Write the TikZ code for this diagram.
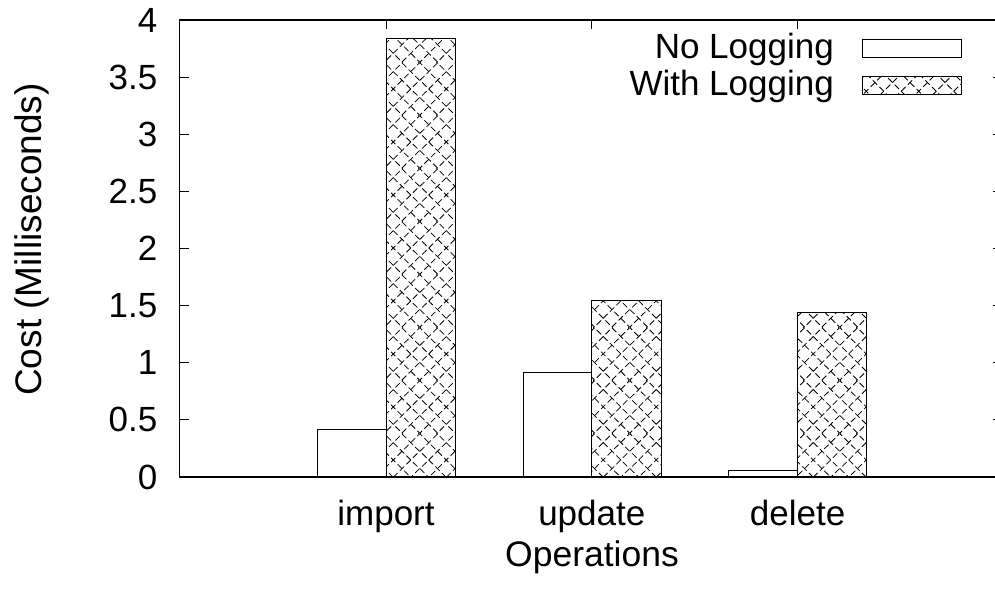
\documentclass[tikz,border=0pt]{standalone}
\usepackage{fontspec}
\setmainfont{Liberation Sans}
\usetikzlibrary{patterns.meta}
\tikzdeclarepattern{
  name=gpcross,
  type=uncolored,
  bounding box={(0pt,0pt) and (52.5pt,52.5pt)},
  tile size={(52.5pt,52.5pt)},
  code={
    \foreach \k in {-2,...,2}{
      \pgfmathsetmacro\cc{\k*17.5}
      \pgfmathsetmacro\xa{max(0,\cc)}
      \pgfmathsetmacro\ya{max(0,-\cc)}
      \pgfmathsetmacro\xb{min(52.5,52.5+\cc)}
      \pgfmathsetmacro\yb{min(52.5,52.5-\cc)}
      \pgfmathsetmacro\ph{Mod((\xa+\ya)/sqrt(2)+3.094,9.2808)}
      \draw[line width=0.8pt, dash pattern=on 6.1872pt off 3.0936pt, dash phase=\ph pt] (\xa pt,\ya pt) -- (\xb pt,\yb pt);
    }
    \foreach \k in {1,...,5}{
      \pgfmathsetmacro\cc{\k*17.5}
      \pgfmathsetmacro\xa{max(0,\cc-52.5)}
      \pgfmathsetmacro\ya{min(\cc,52.5)}
      \pgfmathsetmacro\xb{min(\cc,52.5)}
      \pgfmathsetmacro\yb{max(0,\cc-52.5)}
      \pgfmathsetmacro\ph{Mod((\xa-\ya)/sqrt(2)+3.094,9.2808)}
      \draw[line width=0.8pt, dash pattern=on 6.1872pt off 3.0936pt, dash phase=\ph pt] (\xa pt,\ya pt) -- (\xb pt,\yb pt);
    }
  }
}
\tikzset{
  lbl/.style={font=\fontsize{35}{41}\selectfont, inner sep=0pt},
  axisline/.style={line width=1.6pt, line cap=rect},
  tickline/.style={line width=1pt},
  barplain/.style={draw=black, line width=1pt, fill=white},
  barhatch/.style={draw=black, line width=1pt, pattern=gpcross, pattern color=black},
}
\begin{document}
\begin{tikzpicture}[x=1pt, y=-1pt]
\useasboundingbox (0,0) rectangle (995,590);
% bars: import, update, delete
\foreach \c/\a/\b in {386/0.42/3.84, 591.8/0.913/1.543, 797.6/0.053/1.442}{
  \draw[barplain] ({\c-68.7},477) rectangle (\c,{477-114.25*\a});
  \draw[barhatch] (\c,477) rectangle ({\c+69.2},{477-114.25*\b});
}
% frame
\draw[axisline] (1010,20) -- (179.5,20) -- (179.5,477) -- (1010,477);
\draw[axisline] (1002,20) -- (1002,477);
% y ticks and labels
\foreach \v/\t [count=\i] in {0/0,0.5/0.5,1/1,1.5/1.5,2/2,2.5/2.5,3/3,3.5/3.5,4/4}{
  \draw[tickline] (179.5,{477-114.25*\v}) -- (188.5,{477-114.25*\v});
  \draw[tickline] (1002,{477-114.25*\v}) -- (993,{477-114.25*\v});
  \node[lbl, anchor=east] (yt\i) at (157.5,{477-114.25*\v}) {\t};
}
% x ticks and labels
\foreach \c/\t [count=\i] in {386/import, 591.8/update, 797.6/delete}{
  \draw[tickline] (\c,477) -- (\c,468);
  \draw[tickline] (\c,20) -- (\c,29);
  \node[lbl, anchor=base] (xt\i) at (\c,525) {\t};
}
% axis titles
\node[lbl, font=\fontsize{35.5}{41}\selectfont, anchor=base] (xlab) at (592,566) {Operations};
\node[lbl, font=\fontsize{37}{43}\selectfont, anchor=base, rotate=90] (ylab) at (41,239.5) {Cost (Milliseconds)};
% legend
\node[lbl, anchor=base east] (leg1) at (834,58) {No Logging};
\draw[barplain] (862,39) rectangle (961,57);
\node[lbl, anchor=base east] (leg2) at (834,95.5) {With Logging};
\draw[barhatch] (862,76) rectangle (961,94);
\end{tikzpicture}
\end{document}
